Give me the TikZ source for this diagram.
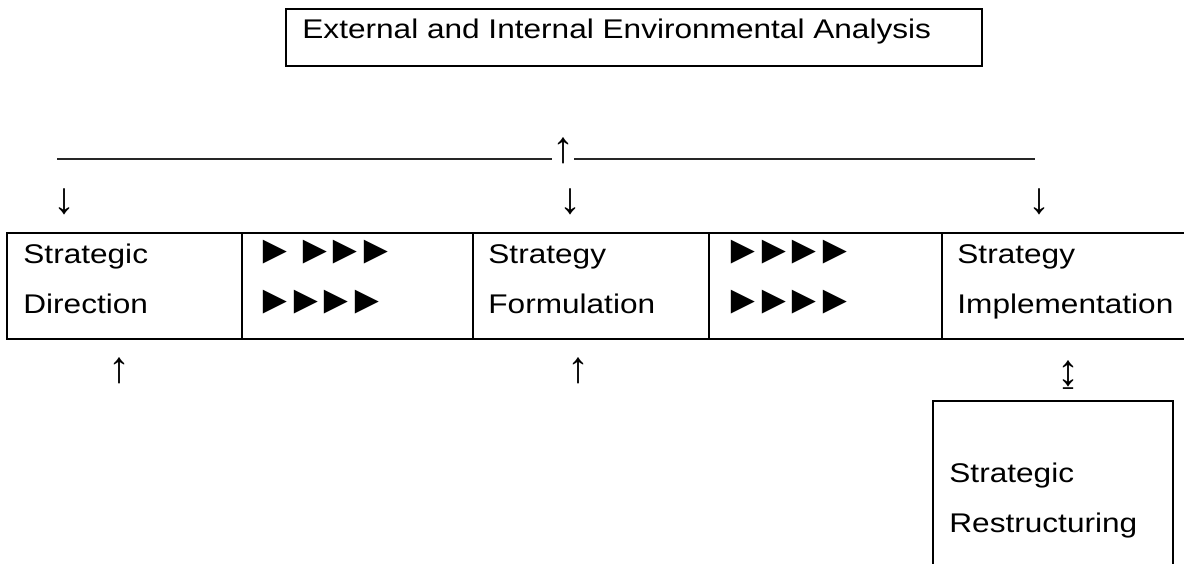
\documentclass[tikz,border=0pt]{standalone}
\usepackage{fontspec}
\setmainfont{Liberation Sans}[FakeStretch=1.17]
\newfontfamily\plainsans{Liberation Sans}
\usetikzlibrary{positioning}
\newcommand{\boxfont}{\fontsize{13.5}{25}\selectfont}
\newcommand{\arrowfont}{\plainsans\fontsize{22}{22}\selectfont}
\newcommand{\tri}{{\plainsans\fontsize{20}{25}\selectfont ►}\kern-4.5pt}

\begin{document}
\begin{tikzpicture}[x=0.5pt, y=-0.5pt]
\tikzstyle{frame} = [rectangle, draw, line width=1pt, outer sep=0pt, inner sep=0pt, anchor=north west]
\tikzstyle{cell} = [frame, minimum height=53pt]
\tikzstyle{celltext} = [anchor=base west, inner sep=0pt, align=left, text width=112pt, font=\boxfont]
\tikzstyle{glyph} = [inner sep=0pt, font=\arrowfont]
\tikzstyle{rule} = [line width=0.8pt, black!85]

\useasboundingbox (0,0) rectangle (1184,563);
\clip (0,0) rectangle (1184,563);

% analysis box at the top
\node (EnvBox) [frame, minimum width=348pt, minimum height=28.5pt] at (286,9) {};
\node (EnvText) [anchor=base west, inner sep=0pt, font=\boxfont] at (302,38) {External and Internal Environmental Analysis};

% line with the arrows
\coordinate (LineL) at (57,159);
\coordinate (LineR) at (1035,159);
\node (UpTop) [glyph] at (563,151) {↑};
\draw [rule] (LineL) -- (UpTop.west |- LineL);
\draw [rule] (UpTop.east |- LineR) -- (LineR);

\node (DownL) [glyph] at (65,202) {↓};
\node (DownM) [glyph] at (570,202) {↓};
\node (DownR) [glyph] at (1039,202) {↓};

% table row
\node (Direction) [cell, minimum width=117.5pt] at (7,233) {};
\node (ArrowsA) [cell, minimum width=115.5pt, right=0pt of Direction] {};
\node (Formulation) [cell, minimum width=118pt, right=0pt of ArrowsA] {};
\node (ArrowsB) [cell, minimum width=116.5pt, right=0pt of Formulation] {};
\node (Implementation) [cell, minimum width=130pt, right=0pt of ArrowsB] {};

\node (DirectionText) [celltext] at (23,263) {Strategic\\Direction};
\node (ArrowsAText) [celltext] at (255,263) {\tri\ \tri\tri\tri\\\tri\tri\tri\tri};
\node (FormulationText) [celltext] at (488,263) {Strategy\\Formulation};
\node (ArrowsBText) [celltext] at (723,263) {\tri\tri\tri\tri\\\tri\tri\tri\tri};
\node (ImplementationText) [celltext] at (957,263) {Strategy\\Implementation};

\node (UpL) [glyph] at (119,371) {↑};
\node (UpM) [glyph] at (578,371) {↑};
\node (UpDown) [glyph] at (1068,375) {↨};

% restructuring box, cut at the bottom
\node (Restructuring) [frame, line width=0.9pt, minimum width=120pt, minimum height=100pt] at (933,401) {};
\node (RestructuringText) [celltext] at (949,482) {Strategic\\Restructuring};
\end{tikzpicture}
\end{document}
